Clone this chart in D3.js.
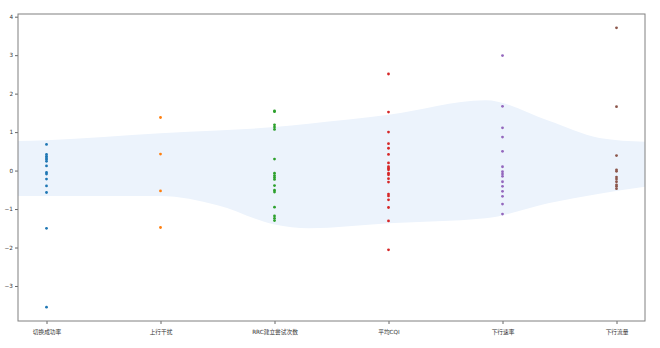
<!DOCTYPE html>
<html>
<head>
<meta charset="utf-8">
<script src="https://cdn.jsdelivr.net/npm/d3@7"></script>
<style>
  html, body { margin: 0; padding: 0; background: #fff; }
  svg { display: block; }
</style>
</head>
<body>
<svg id="chart" width="660" height="348"></svg>
<script>
// ---- data ----
const categories = ["切换成功率", "上行干扰", "RRC建立尝试次数", "平均CQI", "下行速率", "下行流量"];
const handoverSuccess = [0.68, 0.42, 0.37, 0.33, 0.29, 0.24, 0.12, -0.05, -0.09, -0.22, -0.40, -0.57, -1.50, -3.55];
const uplinkInterference = [1.38, 0.43, -0.53, -1.48];
const rrcAttempts = [1.55, 1.53, 1.19, 1.13, 1.07, 0.30, -0.07, -0.13, -0.18, -0.23, -0.39, -0.51, -0.56, -0.95, -1.18, -1.24, -1.30];
const avgCqi = [2.51, 1.52, 1.00, 0.70, 0.58, 0.42, 0.20, 0.10, 0.06, 0.02, -0.07, -0.11, -0.21, -0.30, -0.61, -0.66, -0.76, -0.96, -1.31, -2.06];
const downlinkRate = [2.99, 1.67, 1.11, 0.87, 0.50, 0.10, -0.03, -0.09, -0.15, -0.29, -0.41, -0.54, -0.67, -0.87, -1.13];
const downlinkTraffic = [3.71, 1.66, 0.39, 0.02, -0.02, -0.17, -0.22, -0.29, -0.37, -0.41, -0.47];
const seriesValues = [handoverSuccess, uplinkInterference, rrcAttempts, avgCqi, downlinkRate, downlinkTraffic];
const yTicks = [-3, -2, -1, 0, 1, 2, 3, 4];
// band envelope (x in category index units)
const bandX = [-0.25, 0, 1, 1.5, 2, 2.3, 3, 3.85, 4.4, 4.85, 5.25];
const bandUpper = [0.77, 0.79, 0.97, 1.04, 1.13, 1.22, 1.45, 1.83, 1.30, 0.85, 0.75];
const bandLower = [-0.66, -0.66, -0.66, -0.90, -1.40, -1.50, -1.37, -1.24, -0.85, -0.60, -0.42];

const colors = ["#1f77b4", "#ff7f0e", "#2ca02c", "#d62728", "#9467bd", "#8c564b"];

// ---- layout ----
const svg = d3.select("#chart");
const L = 18, R = 645, T = 14, B = 321;
const x = d3.scaleLinear().domain([-0.25, 5.25]).range([L, R]);
const y = d3.scaleLinear().domain([-3.91, 4.07]).range([B, T]);

// band
const bandData = bandX.map((bx, i) => ({ x: bx, hi: bandUpper[i], lo: bandLower[i] }));
const area = d3.area()
  .x(d => x(d.x))
  .y0(d => y(d.lo))
  .y1(d => y(d.hi))
  .curve(d3.curveMonotoneX);

const defs = svg.append("defs");
const clip = defs.append("clipPath").attr("id", "plotclip");
clip.append("rect").attr("x", L).attr("y", T).attr("width", R - L).attr("height", B - T);

svg.append("path")
  .datum(bandData)
  .attr("d", area)
  .attr("clip-path", "url(#plotclip)")
  .attr("fill", "#ecf3fc");

// points
seriesValues.forEach((vals, ci) => {
  svg.append("g").selectAll("circle")
    .data(vals)
    .join("circle")
    .attr("cx", x(ci))
    .attr("cy", d => y(d))
    .attr("r", 1.4)
    .attr("fill", colors[ci]);
});

// axes
const font = "'DejaVu Sans', 'Noto Sans CJK SC', sans-serif";
const xAxis = d3.axisBottom(x)
  .tickValues(d3.range(categories.length))
  .tickFormat(i => categories[i])
  .tickSize(3).tickPadding(6);
const yAxis = d3.axisLeft(y)
  .tickValues(yTicks)
  .tickFormat(d => d < 0 ? "\u2212" + Math.abs(d) : String(d))
  .tickSize(3).tickPadding(2);

const gx = svg.append("g").attr("transform", `translate(0,${B})`).call(xAxis);
const gy = svg.append("g").attr("transform", `translate(${L},0)`).call(yAxis);
[gx, gy].forEach(g => {
  g.select(".domain").remove();
  g.selectAll(".tick line").attr("stroke", "#666");
  g.selectAll(".tick text").attr("fill", "#333").style("font-family", font).style("font-size", "5.7px");
});

// frame
svg.append("rect")
  .attr("x", L).attr("y", T).attr("width", R - L).attr("height", B - T)
  .attr("fill", "none").attr("stroke", "#808080").attr("stroke-width", 1);
</script>
</body>
</html>
